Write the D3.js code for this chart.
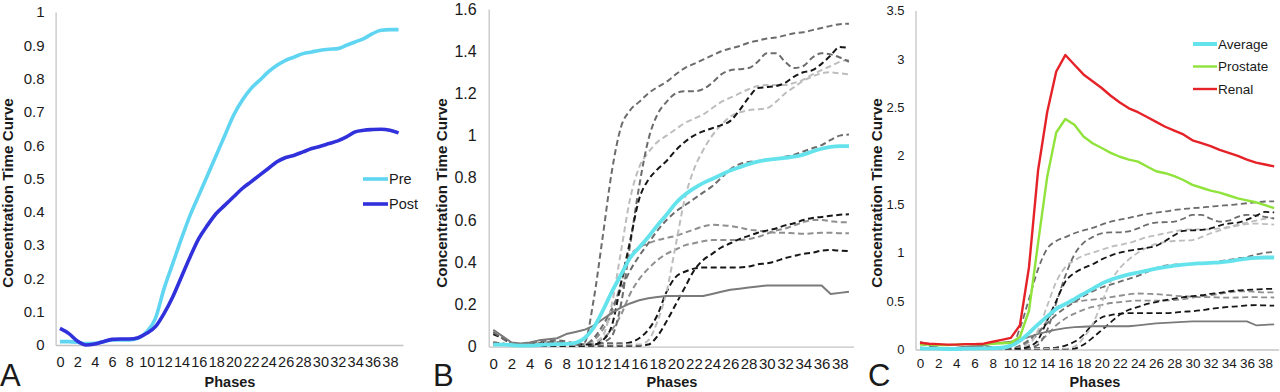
<!DOCTYPE html>
<html><head><meta charset="utf-8">
<script src="https://cdn.jsdelivr.net/npm/d3@7/dist/d3.min.js"></script>
<style>
body{margin:0;background:#fff}
svg{display:block;background:#fff}
text{font-family:"Liberation Sans",Arial,sans-serif;fill:#1a1a1a}
</style>
</head><body>
<svg id="chart" width="1280" height="392"></svg>
<script>
// ---------------- DATA ----------------
const phases = [0,1,2,3,4,5,6,7,8,9,10,11,12,13,14,15,16,17,18,19,20,21,22,23,24,25,26,27,28,29,30,31,32,33,34,35,36,37,38,39];
const phaseTickLabels = [0,2,4,6,8,10,12,14,16,18,20,22,24,26,28,30,32,34,36,38];
const yTicksA = [0,0.1,0.2,0.3,0.4,0.5,0.6,0.7,0.8,0.9,1];
const yTicksB = [0,0.2,0.4,0.6,0.8,1,1.2,1.4,1.6];
const yTicksC = [0,0.5,1,1.5,2,2.5,3,3.5];

// Panel A
const pre  = [0.01,0.01,0.008,0.004,0.005,0.01,0.015,0.015,0.015,0.02,0.04,0.08,0.17,0.245,0.32,0.39,0.45,0.51,0.57,0.63,0.69,0.735,0.77,0.795,0.82,0.84,0.855,0.865,0.875,0.88,0.885,0.888,0.89,0.9,0.91,0.92,0.935,0.945,0.947,0.947];
const post = [0.05,0.035,0.012,0.0,0.003,0.01,0.017,0.018,0.018,0.022,0.035,0.055,0.095,0.145,0.205,0.265,0.32,0.36,0.395,0.42,0.445,0.47,0.49,0.51,0.53,0.55,0.563,0.57,0.58,0.59,0.597,0.605,0.613,0.625,0.64,0.645,0.647,0.648,0.645,0.637];

// Panels B & C : individual curves
const average = [0.01,0.01,0.008,0.005,0.005,0.008,0.01,0.012,0.013,0.018,0.04,0.09,0.17,0.26,0.34,0.42,0.47,0.52,0.575,0.625,0.68,0.72,0.75,0.775,0.795,0.815,0.835,0.85,0.865,0.877,0.885,0.89,0.895,0.9,0.91,0.925,0.938,0.947,0.95,0.95];
const curveSolid = [0.08,0.05,0.02,0.015,0.02,0.03,0.035,0.04,0.06,0.07,0.08,0.1,0.13,0.16,0.185,0.205,0.22,0.23,0.235,0.24,0.24,0.24,0.24,0.24,0.25,0.26,0.27,0.275,0.28,0.285,0.29,0.29,0.29,0.29,0.29,0.29,0.29,0.25,0.255,0.26];
const curveT  = [0.07,0.04,0.015,0.01,0.012,0.015,0.02,0.02,0.015,0.012,0.02,0.22,0.52,0.83,1.04,1.12,1.16,1.2,1.23,1.255,1.29,1.32,1.34,1.36,1.38,1.4,1.413,1.425,1.44,1.45,1.46,1.465,1.475,1.485,1.49,1.5,1.51,1.52,1.528,1.53];
const curveW  = [0.02,0.015,0.01,0.01,0.015,0.025,0.03,0.03,0.025,0.015,0.01,0.01,0.02,0.05,0.2,0.48,0.76,0.98,1.1,1.16,1.2,1.21,1.21,1.22,1.25,1.29,1.31,1.315,1.32,1.35,1.39,1.39,1.35,1.32,1.33,1.37,1.39,1.385,1.37,1.35];
const curveL1 = [0.01,0.01,0.01,0.01,0.01,0.015,0.02,0.02,0.015,0.01,0.01,0.02,0.05,0.2,0.45,0.7,0.85,0.92,0.97,1.0,1.03,1.06,1.08,1.1,1.13,1.16,1.18,1.2,1.22,1.235,1.24,1.24,1.24,1.25,1.265,1.29,1.31,1.33,1.35,1.36];
const curveL2 = [0.01,0.01,0.01,0.01,0.01,0.01,0.01,0.01,0.01,0.01,0.01,0.01,0.01,0.01,0.01,0.01,0.01,0.03,0.12,0.26,0.48,0.7,0.84,0.93,1.0,1.05,1.09,1.11,1.12,1.125,1.13,1.16,1.2,1.23,1.26,1.28,1.295,1.3,1.295,1.29];
const curveK1 = [0.06,0.04,0.015,0.01,0.01,0.015,0.02,0.02,0.015,0.01,0.01,0.01,0.03,0.1,0.3,0.5,0.7,0.79,0.84,0.88,0.93,0.97,1.0,1.02,1.035,1.05,1.07,1.12,1.18,1.225,1.23,1.235,1.25,1.28,1.3,1.31,1.34,1.38,1.42,1.415];
const curveG1 = [0.02,0.015,0.01,0.01,0.01,0.015,0.02,0.02,0.015,0.01,0.01,0.04,0.1,0.18,0.27,0.36,0.43,0.49,0.55,0.6,0.64,0.67,0.7,0.73,0.76,0.8,0.84,0.865,0.875,0.88,0.885,0.89,0.9,0.91,0.925,0.94,0.955,0.98,1.0,1.005];
const curveG2 = [0.01,0.01,0.01,0.01,0.01,0.015,0.02,0.02,0.015,0.01,0.01,0.03,0.08,0.16,0.3,0.43,0.47,0.49,0.505,0.515,0.525,0.54,0.555,0.57,0.578,0.575,0.572,0.565,0.555,0.55,0.545,0.54,0.54,0.537,0.535,0.537,0.54,0.54,0.538,0.537];
const curveG3 = [0.01,0.01,0.01,0.01,0.01,0.01,0.01,0.01,0.01,0.01,0.01,0.01,0.04,0.08,0.15,0.25,0.32,0.37,0.41,0.44,0.46,0.48,0.49,0.5,0.505,0.505,0.505,0.505,0.51,0.52,0.535,0.55,0.56,0.575,0.59,0.6,0.6,0.595,0.59,0.59];
const curveK2 = [0.01,0.01,0.01,0.005,0.005,0.005,0.005,0.005,0.005,0.005,0.005,0.005,0.005,0.005,0.005,0.005,0.005,0.01,0.05,0.12,0.2,0.28,0.36,0.41,0.44,0.47,0.49,0.51,0.525,0.54,0.55,0.56,0.575,0.585,0.6,0.61,0.615,0.62,0.625,0.627];
const curveK3 = [0.01,0.01,0.01,0.005,0.005,0.005,0.005,0.005,0.005,0.005,0.005,0.01,0.015,0.015,0.015,0.02,0.04,0.08,0.15,0.26,0.33,0.355,0.37,0.375,0.375,0.375,0.375,0.375,0.38,0.39,0.395,0.405,0.42,0.43,0.44,0.445,0.455,0.458,0.455,0.453];

// Panel C extra series
const prostate = [0.05,0.05,0.045,0.045,0.05,0.055,0.055,0.055,0.06,0.065,0.07,0.13,0.4,1.1,1.78,2.24,2.38,2.32,2.2,2.13,2.08,2.03,1.99,1.96,1.94,1.89,1.84,1.82,1.79,1.75,1.7,1.67,1.64,1.62,1.59,1.56,1.54,1.52,1.49,1.46];
const renal    = [0.07,0.06,0.055,0.05,0.05,0.055,0.055,0.06,0.08,0.1,0.12,0.25,0.85,1.85,2.45,2.87,3.04,2.94,2.84,2.77,2.7,2.62,2.55,2.49,2.45,2.4,2.35,2.3,2.26,2.22,2.16,2.13,2.1,2.06,2.03,2.0,1.96,1.93,1.91,1.89];

// ---------------- STYLES ----------------
const COL = {pre:"#5fd5f2", post:"#3131dc", avg:"#64e3ec", prostate:"#8fe33a", renal:"#e52228",
  dark:"#6c6c6c", mid:"#8f8f8f", light:"#bdbdbd", black:"#161616", solid:"#7a7a7a", axis:"#c4c4c4"};

const individual = [
  {v:curveG3, c:COL.mid}, {v:curveG2, c:COL.mid}, {v:curveK3, c:COL.black}, {v:curveK2, c:COL.black},
  {v:curveG1, c:COL.dark}, {v:curveL2, c:COL.light}, {v:curveL1, c:COL.light},
  {v:curveW, c:COL.dark}, {v:curveK1, c:COL.black}, {v:curveT, c:COL.dark}
];

const svg = d3.select("#chart");

function drawPanel(cfg){
  const x = d3.scalePoint().domain(phases).range(cfg.xr).padding(0.5);
  const y = d3.scaleLinear().domain([0, cfg.ymax]).range(cfg.yr);
  const g = svg.append("g");

  // x axis
  const xa = g.append("g").attr("transform",`translate(0,${cfg.yr[0]})`)
    .call(d3.axisBottom(x).tickValues(phaseTickLabels).tickSize(0).tickSizeOuter(0).tickPadding(cfg.xPad));
  xa.select(".domain").attr("stroke",COL.axis).attr("stroke-width",1.3);
  xa.selectAll("text").attr("font-size",cfg.xFont).attr("fill","#1a1a1a").attr("font-family","Liberation Sans, Arial, sans-serif");

  // y axis
  const ya = g.append("g").attr("transform",`translate(${cfg.xr[0]},0)`)
    .call(d3.axisLeft(y).tickValues(cfg.yTicks).tickSize(0).tickSizeOuter(0).tickPadding(cfg.yPad).tickFormat(d=>String(d)));
  ya.select(".domain").attr("stroke",COL.axis).attr("stroke-width",1.3);
  ya.selectAll("text").attr("font-size",cfg.yFont).attr("fill","#1a1a1a").attr("font-family","Liberation Sans, Arial, sans-serif");

  const mk = (curve)=> d3.line().x((d,i)=>x(phases[i])).y(d=>y(d)).curve(curve);

  cfg.series.forEach(s=>{
    g.append("path").attr("d", mk(s.curve||d3.curveMonotoneX)(s.v))
      .attr("fill","none").attr("stroke",s.c).attr("stroke-width",s.w)
      .attr("stroke-dasharray",s.dash||null).attr("stroke-linejoin","round");
  });

  // axis titles
  g.append("text").attr("transform",`translate(${cfg.ytX},${cfg.ytY}) rotate(-90)`)
    .attr("text-anchor","middle").attr("font-size",15.2).attr("font-weight","bold").text("Concentration Time Curve");
  g.append("text").attr("x",cfg.phX).attr("y",386.5).attr("text-anchor","middle")
    .attr("font-size",14.5).attr("font-weight","bold").text("Phases");
  g.append("text").attr("x",cfg.letterX).attr("y",386).attr("font-size",31).text(cfg.letter);

  // legend
  if(cfg.legend){
    cfg.legend.forEach((L,i)=>{
      const yy = cfg.legY + i*cfg.legDy;
      g.append("line").attr("x1",cfg.legX).attr("x2",cfg.legX+cfg.legLen).attr("y1",yy).attr("y2",yy)
        .attr("stroke",L.c).attr("stroke-width",L.w);
      g.append("text").attr("x",cfg.legX+cfg.legLen+1).attr("y",yy).attr("dy","0.35em")
        .attr("font-size",cfg.legFont).text(L.name);
    });
  }
}

const dashedSeries = (w)=> individual.map(s=>({v:s.v, c:s.c, w:w, dash:"6,3.5"}));

// Panel A
drawPanel({xr:[55.6,402.9], yr:[345,12], ymax:1, yTicks:yTicksA, xFont:14.5, yFont:15, xPad:12, yPad:11,
  series:[{v:pre,c:COL.pre,w:3.6},{v:post,c:COL.post,w:3.6}],
  ytX:13, ytY:193, phX:230, letter:"A", letterX:0,
  legend:[{name:"Pre",c:COL.pre,w:3.6},{name:"Post",c:COL.post,w:3.6}], legX:363, legY:179, legDy:25, legLen:25, legFont:14.5});

// Panel B
drawPanel({xr:[488.7,853.5], yr:[346.7,9], ymax:1.6, yTicks:yTicksB, xFont:15, yFont:16, xPad:12, yPad:12,
  series:[...dashedSeries(2), {v:curveSolid,c:COL.solid,w:2,curve:d3.curveLinear},{v:average,c:COL.avg,w:3.8}],
  ytX:447, ytY:193, phX:672, letter:"B", letterX:433});

// Panel C
drawPanel({xr:[915.5,1278.7], yr:[349.5,10.5], ymax:3.5, yTicks:yTicksC, xFont:13.5, yFont:13, xPad:9, yPad:11,
  series:[...dashedSeries(1.8), {v:curveSolid,c:COL.solid,w:1.8,curve:d3.curveLinear},{v:average,c:COL.avg,w:3.8},
    {v:prostate,c:COL.prostate,w:2.4,curve:d3.curveLinear},{v:renal,c:COL.renal,w:2.4,curve:d3.curveLinear}],
  ytX:882, ytY:193, phX:1095, letter:"C", letterX:868,
  legend:[{name:"Average",c:COL.avg,w:4},{name:"Prostate",c:COL.prostate,w:2.4},{name:"Renal",c:COL.renal,w:2.4}],
  legX:1193, legY:44, legDy:22.5, legLen:24, legFont:13.5});
</script>
</body></html>
